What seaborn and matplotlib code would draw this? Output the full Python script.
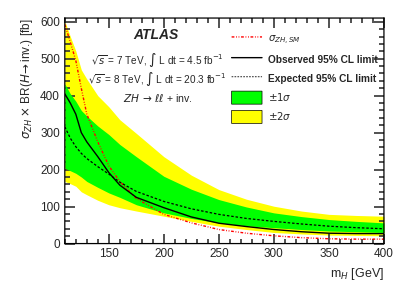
import numpy as np
import pandas as pd
import matplotlib
matplotlib.use("Agg")
import matplotlib.pyplot as plt
import seaborn as sns
from matplotlib.patches import Patch
from matplotlib.lines import Line2D
from matplotlib.ticker import MultipleLocator

# Higgs mass points [GeV]
m_h = [110, 115, 120, 125, 130, 140, 150, 160, 175, 200, 225, 250, 275, 300, 325, 350, 375, 400]

observed = [405, 380, 350, 300, 275, 235, 192, 158, 125, 97, 72, 55, 46, 38, 32, 28, 27, 27]
expected = [316, 285, 262, 244, 230, 208, 188, 166, 141, 114, 94, 79, 68, 60, 53, 47, 43, 40]
sigma_sm = [593, 545, 495, 420, 350, 275, 210, 168, 122, 79, 56, 38, 28, 21, 16, 13, 12, 12]

one_sig_up = [432, 405, 385, 360, 345, 318, 295, 268, 235, 182, 147, 119, 99, 83, 73, 65, 60, 56]
one_sig_dn = [204, 197, 190, 180, 168, 152, 137, 125, 105, 83, 68, 56, 48, 43, 38, 34, 32, 30]
two_sig_up = [602, 560, 521, 470, 445, 400, 370, 335, 298, 235, 185, 146, 120, 101, 88, 79, 76, 74]
two_sig_dn = [168, 162, 155, 140, 132, 117, 105, 97, 88, 74, 60, 47, 38, 30, 26, 23, 22, 21]

df = pd.DataFrame({"mH": m_h, "obs": observed, "exp": expected, "sm": sigma_sm})

sns.set_style("ticks")
plt.rcParams["font.family"] = ["Liberation Sans", "DejaVu Sans"]
plt.rcParams["mathtext.fontset"] = "dejavusans"
plt.rcParams["path.snap"] = False

fig = plt.figure(figsize=(4.05, 2.91), dpi=100)
ax = fig.add_axes([0.160, 0.163, 0.788, 0.775])

ax.fill_between(m_h, two_sig_dn, two_sig_up, color="#ffff00", lw=0, zorder=0.5)
ax.fill_between(m_h, one_sig_dn, one_sig_up, color="#00ff00", lw=0, zorder=0.6)

sm_style = (0, (2, 1.2, 0.6, 1.2, 0.6, 1.2))
sns.lineplot(data=df, x="mH", y="sm", ax=ax, color="red", lw=1.0, linestyle=sm_style)
sns.lineplot(data=df, x="mH", y="exp", ax=ax, color="black", lw=0.9, linestyle=(0, (2, 1.5)))
sns.lineplot(data=df, x="mH", y="obs", ax=ax, color="black", lw=1.0)

ax.set_xlim(110, 400)
ax.set_ylim(0, 610)
ax.xaxis.set_major_locator(MultipleLocator(50))
ax.xaxis.set_minor_locator(MultipleLocator(10))
ax.yaxis.set_major_locator(MultipleLocator(100))
ax.yaxis.set_minor_locator(MultipleLocator(20))
ax.tick_params(which="both", direction="in", top=True, right=True, width=1.2, color="0.2")
ax.tick_params(which="major", length=7, labelsize=8.5)
ax.tick_params(which="minor", length=3.5)
for s in ax.spines.values():
    s.set_linewidth(0.9)
    s.set_color("black")

ax.set_xlabel(r"m$_{H}$ [GeV]", fontsize=9, loc="right")
ax.set_ylabel(r"$\sigma_{ZH}$ $\times$ BR($H\!\rightarrow$inv.) [fb]", fontsize=8.5, loc="top")

ax.text(0.285, 0.925, "ATLAS", transform=ax.transAxes, ha="center", va="center",
        fontsize=10, fontweight="bold", fontstyle="italic")
ax.text(0.29, 0.815, r"$\sqrt{s}$ = 7 TeV, $\int$ L dt = 4.5 fb$^{-1}$", transform=ax.transAxes,
        ha="center", va="center", fontsize=7.2)
ax.text(0.29, 0.73, r"$\sqrt{s}$ = 8 TeV, $\int$ L dt = 20.3 fb$^{-1}$", transform=ax.transAxes,
        ha="center", va="center", fontsize=7.2)
ax.text(0.29, 0.645, r"$ZH\,\rightarrow\,\ell\ell$ + inv.", transform=ax.transAxes,
        ha="center", va="center", fontsize=7.6)

handles = [
    Line2D([], [], color="red", lw=1.0, linestyle=sm_style),
    Line2D([], [], color="black", lw=1.0),
    Line2D([], [], color="black", lw=0.6, linestyle=(0, (2, 1.5))),
    Patch(facecolor="#00ff00", edgecolor="black", lw=0.5),
    Patch(facecolor="#ffff00", edgecolor="black", lw=0.5),
]
labels = [r"$\sigma_{ZH,SM}$", "Observed 95% CL limit", "Expected 95% CL limit",
          r"$\pm1\sigma$", r"$\pm2\sigma$"]
leg = ax.legend(handles, labels, loc="upper right", bbox_to_anchor=(1.0, 0.965), frameon=False,
                fontsize=7.3, handlelength=3.0, handleheight=1.6, labelspacing=0.6,
                handletextpad=0.6, borderaxespad=0.2)
for t in leg.get_texts()[1:3]:
    t.set_fontweight("bold")

fig.savefig("out.png", dpi=100)
